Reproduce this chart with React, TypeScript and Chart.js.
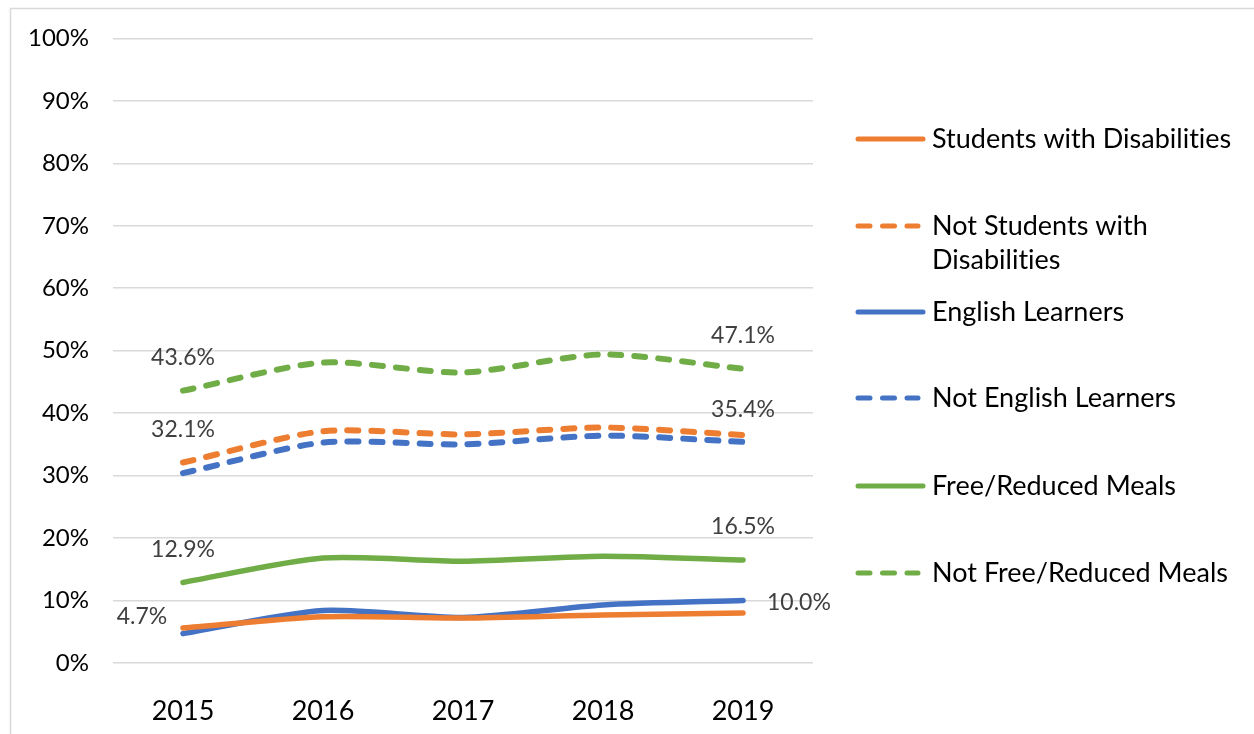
import React, { useEffect, useRef } from "react";
import { Chart, registerables } from "chart.js";

Chart.register(...registerables);

const years = ["2015", "2016", "2017", "2018", "2019"];
const yTicks = [0, 10, 20, 30, 40, 50, 60, 70, 80, 90, 100];

const swd = [5.6, 7.4, 7.2, 7.7, 8.0];
const notSwd = [32.1, 37.1, 36.6, 37.7, 36.5];
const el = [4.7, 8.4, 7.3, 9.3, 10.0];
const notEl = [30.4, 35.3, 35.0, 36.4, 35.4];
const frm = [12.9, 16.8, 16.3, 17.1, 16.5];
const notFrm = [43.6, 48.1, 46.5, 49.4, 47.1];

const seriesNames = [
  "Students with Disabilities",
  "Not Students with Disabilities",
  "English Learners",
  "Not English Learners",
  "Free/Reduced Meals",
  "Not Free/Reduced Meals",
];
const legendLines = [
  ["Students with Disabilities"],
  ["Not Students with", "Disabilities"],
  ["English Learners"],
  ["Not English Learners"],
  ["Free/Reduced Meals"],
  ["Not Free/Reduced Meals"],
];

const ORANGE = "#ED7D31";
const BLUE = "#4472C4";
const GREEN = "#70AD47";

// [datasetIndex, pointIndex, text, position]
const dataLabels: [number, number, string, string][] = [
  [5, 0, "43.6%", "above"],
  [5, 4, "47.1%", "above"],
  [1, 0, "32.1%", "above"],
  [3, 4, "35.4%", "above2"],
  [4, 0, "12.9%", "above"],
  [4, 4, "16.5%", "above"],
  [2, 0, "4.7%", "left"],
  [2, 4, "10.0%", "right"],
];

const FONT = "Lato, 'Open Sans', sans-serif";

export default function App() {
  const ref = useRef<HTMLCanvasElement>(null);

  useEffect(() => {
    if (!ref.current) return;
    const values = [swd, notSwd, el, notEl, frm, notFrm];
    const colors = [ORANGE, ORANGE, BLUE, BLUE, GREEN, GREEN];
    const dashed = [false, true, false, true, false, true];

    const extras = {
      id: "extras",
      afterDraw(chart: any) {
        const ctx = chart.ctx;
        ctx.save();
        // frame
        ctx.strokeStyle = "#d9d9d9";
        ctx.lineWidth = 1.5;
        ctx.beginPath();
        ctx.moveTo(10.5, 800);
        ctx.lineTo(10.5, 8.5);
        ctx.lineTo(1300, 8.5);
        ctx.stroke();

        // data labels
        ctx.font = `23px ${FONT}`;
        ctx.fillStyle = "#404040";
        ctx.textBaseline = "middle";
        for (const [di, pi, text, pos] of dataLabels) {
          const pt = chart.getDatasetMeta(di).data[pi];
          let x = pt.x;
          let y = pt.y;
          if (pos === "above") {
            ctx.textAlign = "center";
            y -= 33;
          } else if (pos === "above2") {
            ctx.textAlign = "center";
            y -= 32;
          } else if (pos === "left") {
            ctx.textAlign = "center";
            x -= 41;
            y -= 17;
          } else {
            ctx.textAlign = "left";
            x += 24;
            y += 2;
          }
          ctx.fillText(text, x, y);
        }

        // legend
        const rowY = [139, 226, 312, 398, 486, 573];
        ctx.font = `27px ${FONT}`;
        try {
          (ctx as any).letterSpacing = "0.01px";
        } catch (e) {}
        ctx.fillStyle = "#000000";
        ctx.textAlign = "left";
        for (let i = 0; i < 6; i++) {
          const y = rowY[i];
          ctx.strokeStyle = colors[i];
          ctx.lineWidth = 5;
          ctx.lineCap = "round";
          ctx.setLineDash(dashed[i] ? [12, 12.5] : []);
          ctx.beginPath();
          ctx.moveTo(858, y);
          ctx.lineTo(dashed[i] ? 918 : 923, y);
          ctx.stroke();
          ctx.setLineDash([]);
          legendLines[i].forEach((line, k) => {
            ctx.fillText(line, 932, y + k * 34);
          });
        }
        ctx.restore();
      },
    };

    const chart = new Chart(ref.current, {
      type: "line",
      data: {
        labels: years,
        datasets: values.map((v, i) => ({
          label: seriesNames[i],
          data: v,
          borderColor: colors[i],
          backgroundColor: colors[i],
          borderWidth: dashed[i] ? 6 : 5.5,
          borderDash: dashed[i] ? [11, 13] : [],
          borderCapStyle: "round",
          borderJoinStyle: "round",
          pointRadius: 0,
          tension: 0.25,
          fill: false,
        })),
      },
      options: {
        animation: false,
        responsive: false,
        layout: { padding: { left: 0, top: 38, right: 441, bottom: 0 } },
        plugins: { legend: { display: false }, tooltip: { enabled: false } },
        scales: {
          x: {
            offset: true,
            grid: { display: false },
            border: { display: false },
            ticks: {
              color: "#000",
              font: { family: FONT, size: 27 },
              padding: 24,
              maxRotation: 0,
            },
            afterFit: (s: any) => {
              s.height = 71;
            },
          },
          y: {
            min: 0,
            max: 100,
            afterBuildTicks: (s: any) => {
              s.ticks = yTicks.map((v) => ({ value: v }));
            },
            grid: { color: "#d9d9d9", lineWidth: 1.5, drawTicks: false },
            border: { display: false },
            ticks: {
              color: "#000",
              font: { family: FONT, size: 24 },
              padding: 24,
              callback: (v: any) => `${v}%`,
            },
            afterFit: (s: any) => {
              s.width = 113;
            },
          },
        },
      },
      plugins: [extras],
    });
    return () => chart.destroy();
  }, []);

  return (
    <div style={{ position: "fixed", left: 0, top: 0, width: 1254, height: 734, background: "#fff" }}>
      <canvas ref={ref} width={1254} height={734} style={{ display: "block" }} />
    </div>
  );
}
